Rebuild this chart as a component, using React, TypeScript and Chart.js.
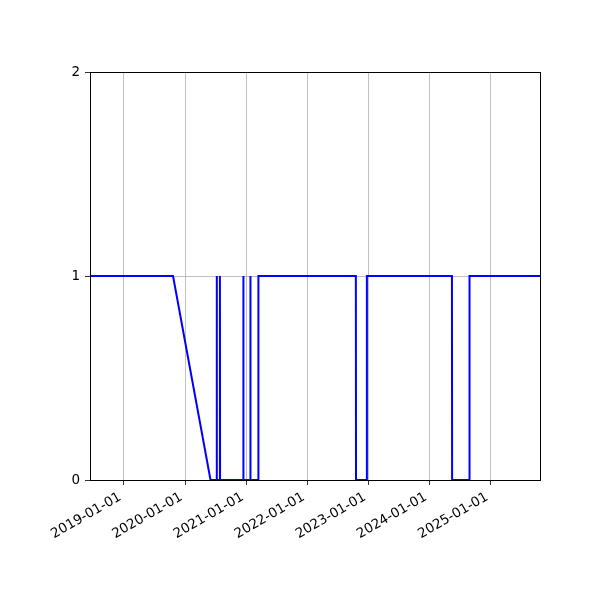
import { useEffect, useRef } from "react";
import { Chart, registerables, type Plugin } from "chart.js";

Chart.register(...registerables);

const dates = [
  "2018-06-01", "2019-10-21", "2020-06-01",
  "2020-07-07", "2020-07-08", "2020-07-09",
  "2020-07-26", "2020-07-27", "2020-07-28",
  "2020-12-13", "2020-12-14", "2020-12-15",
  "2021-01-24", "2021-01-25", "2021-01-26",
  "2021-03-13", "2021-03-14",
  "2022-10-17", "2022-10-18",
  "2022-12-21", "2022-12-22",
  "2024-05-13", "2024-05-14",
  "2024-08-25", "2024-08-26",
  "2025-11-01",
];
const values = [
  1, 1, 0,
  0, 1, 0,
  0, 1, 0,
  0, 1, 0,
  0, 1, 0,
  0, 1,
  1, 0,
  0, 1,
  1, 0,
  0, 1,
  1,
];

const yearTicks = [
  "2019-01-01", "2020-01-01", "2021-01-01", "2022-01-01",
  "2023-01-01", "2024-01-01", "2025-01-01",
];
const yTicks = [0, 1, 2];
const xMin = "2018-06-12";
const xMax = "2025-10-21";

const toMs = (d: string) => Date.parse(d + "T00:00:00Z");

// matplotlib-like box around the axes
const framePlugin: Plugin = {
  id: "frame",
  afterDraw(chart) {
    const { ctx, chartArea } = chart;
    ctx.save();
    ctx.strokeStyle = "#000";
    ctx.lineWidth = 1;
    ctx.strokeRect(
      Math.round(chartArea.left) + 0.5,
      Math.round(chartArea.top) + 0.5,
      Math.round(chartArea.right - chartArea.left),
      Math.round(chartArea.bottom - chartArea.top)
    );
    ctx.restore();
  },
};

const App = () => {
  const canvasRef = useRef<HTMLCanvasElement>(null);

  useEffect(() => {
    document.body.style.margin = "0";
    if (!canvasRef.current) return;
    const font = { family: "DejaVu Sans", size: 13.5 };

    const chart = new Chart(canvasRef.current, {
      type: "line",
      data: {
        datasets: [
          {
            data: dates.map((d, i) => ({ x: toMs(d), y: values[i] })),
            borderColor: "#0000ff",
            borderWidth: 2,
            pointRadius: 0,
            tension: 0,
            fill: false,
          },
        ],
      },
      options: {
        animation: false,
        responsive: false,
        devicePixelRatio: 1,
        layout: { padding: { top: 72, right: 60, left: 0, bottom: 0 } },
        plugins: {
          legend: { display: false },
          tooltip: { enabled: false },
        },
        scales: {
          x: {
            type: "linear",
            min: toMs(xMin),
            max: toMs(xMax),
            afterBuildTicks: (scale) => {
              scale.ticks = yearTicks.map((d) => ({ value: toMs(d) }));
            },
            afterFit: (scale) => {
              scale.height = 120;
            },
            ticks: {
              autoSkip: false,
              minRotation: 30,
              maxRotation: 30,
              padding: 2,
              color: "#000",
              font,
              // trailing space nudges the rotated label left like matplotlib's
              callback: (v) => new Date(Number(v)).toISOString().slice(0, 10) + " ",
            },
            grid: {
              color: "#b0b0b0",
              lineWidth: 0.8,
              tickColor: "#000",
              tickLength: 5,
            },
            border: { color: "#000", width: 1 },
          },
          y: {
            type: "linear",
            min: 0,
            max: 2,
            afterBuildTicks: (scale) => {
              scale.ticks = yTicks.map((v) => ({ value: v }));
            },
            afterFit: (scale) => {
              scale.width = 90;
            },
            ticks: {
              padding: 5,
              color: "#000",
              font,
            },
            grid: {
              color: "#b0b0b0",
              lineWidth: 0.8,
              tickColor: "#000",
              tickLength: 5,
            },
            border: { color: "#000", width: 1 },
          },
        },
      },
      plugins: [framePlugin],
    });

    return () => chart.destroy();
  }, []);

  return (
    <div style={{ width: 600, height: 600, background: "#fff" }}>
      <canvas ref={canvasRef} width={600} height={600} />
    </div>
  );
};

export default App;
